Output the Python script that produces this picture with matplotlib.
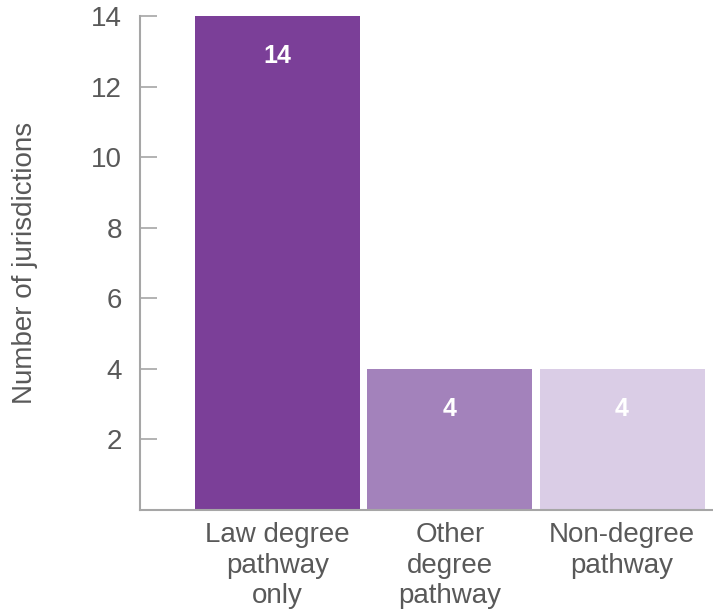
import matplotlib
matplotlib.use("Agg")
import matplotlib.pyplot as plt

categories = ["Law degree\npathway\nonly", "Other\ndegree\npathway", "Non-degree\npathway"]
values = [14, 4, 4]
colors = ["#7b3f98", "#a382bb", "#dacde6"]
yticks = [2, 4, 6, 8, 10, 12, 14]

plt.rcParams['font.family'] = ['Liberation Sans', 'DejaVu Sans']
text_color = "#595959"
spine_color = "#a6a6a6"

fig = plt.figure(figsize=(7.13, 6.14), dpi=100)
ax = fig.add_axes([140/713, 1 - 510/614, 1 - 140/713, (510 - 16)/614])

x = list(range(len(categories)))
bars = ax.bar(x, values, width=0.958, color=colors)
for xi, v in zip(x, values):
    ax.annotate(str(v), (xi, v), xytext=(0, -40), textcoords="offset pixels",
                ha="center", va="center", color="white", fontsize=18, fontweight="bold")

ax.set_xlim(-0.798, 2.528)
ax.set_ylim(0, 14)
ax.set_yticks(yticks)
ax.set_xticks(x)
ax.set_xticklabels(categories, fontsize=20, color=text_color, linespacing=1.22)
ax.tick_params(axis='y', direction='in', length=12, width=1.2, color=spine_color,
               labelsize=20, labelcolor=text_color, pad=13)
ax.tick_params(axis='x', length=0, pad=9)
ax.set_ylabel("Number of jurisdictions", fontsize=20, color=text_color, labelpad=38)

for s in ["top", "right"]:
    ax.spines[s].set_visible(False)
for s in ["left", "bottom"]:
    ax.spines[s].set_color(spine_color)
    ax.spines[s].set_linewidth(1.5)

fig.savefig("out.png", dpi=100)
